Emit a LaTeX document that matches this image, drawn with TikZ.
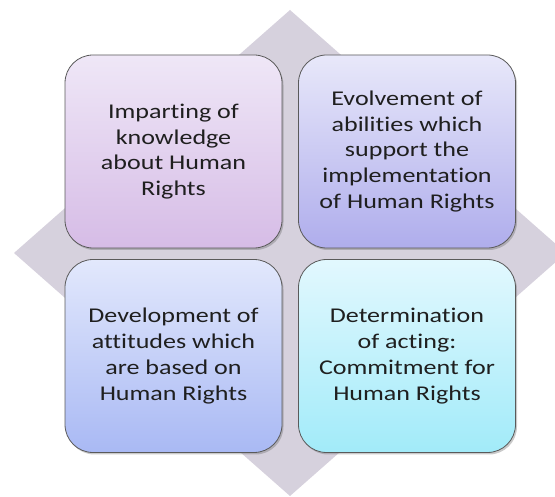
\documentclass[tikz,border=0pt]{standalone}
\usepackage{fontspec}
\setmainfont[FakeStretch=1.24,RawFeature={-liga;-clig}]{Carlito}
\usetikzlibrary{shadows}
\definecolor{diam}{HTML}{D6D1DD}
\definecolor{bordc}{HTML}{5A5A5A}
\definecolor{atop}{HTML}{EFE7F7}\definecolor{abot}{HTML}{D6BCE6}
\definecolor{btop}{HTML}{E8E8FA}\definecolor{bbot}{HTML}{AFADEC}
\definecolor{ctop}{HTML}{E2E8FC}\definecolor{cbot}{HTML}{A9B9F4}
\definecolor{dtop}{HTML}{E2F8FE}\definecolor{dbot}{HTML}{A2EBF9}
\tikzset{
  quad/.style={draw=bordc, line width=0.8pt, rounded corners=28pt,
    minimum width=217pt, minimum height=193pt, inner sep=0pt,
    align=center, font=\fontsize{21}{25.8}\selectfont, text=black!88,
    drop shadow={shadow xshift=1.5pt, shadow yshift=-2pt, opacity=0.35, fill=black!60}},
}
\begin{document}
\begin{tikzpicture}[x=1pt,y=-1pt]
\useasboundingbox (0,0) rectangle (555,497);
\begin{scope}
\clip (0,0) rectangle (555,497);
\fill[diam] (290,10) coordinate (dt) -- (566,253) coordinate (dr) -- (290,496) coordinate (db) -- (14,253) coordinate (dl) -- cycle;
\end{scope}
\node[quad, top color=atop, bottom color=abot] (a) at (173.5,151.5) {Imparting of\\knowledge\\about Human\\Rights};
\node[quad, top color=btop, bottom color=bbot] (b) at (407,151.5) {Evolvement of\\abilities which\\support the\\implementation\\of Human Rights};
\node[quad, top color=ctop, bottom color=cbot] (c) at (173.5,356) {Development of\\attitudes which\\are based on\\Human Rights};
\node[quad, top color=dtop, bottom color=dbot] (d) at (407,356) {Determination\\of acting:\\Commitment for\\Human Rights};
\end{tikzpicture}
\end{document}
